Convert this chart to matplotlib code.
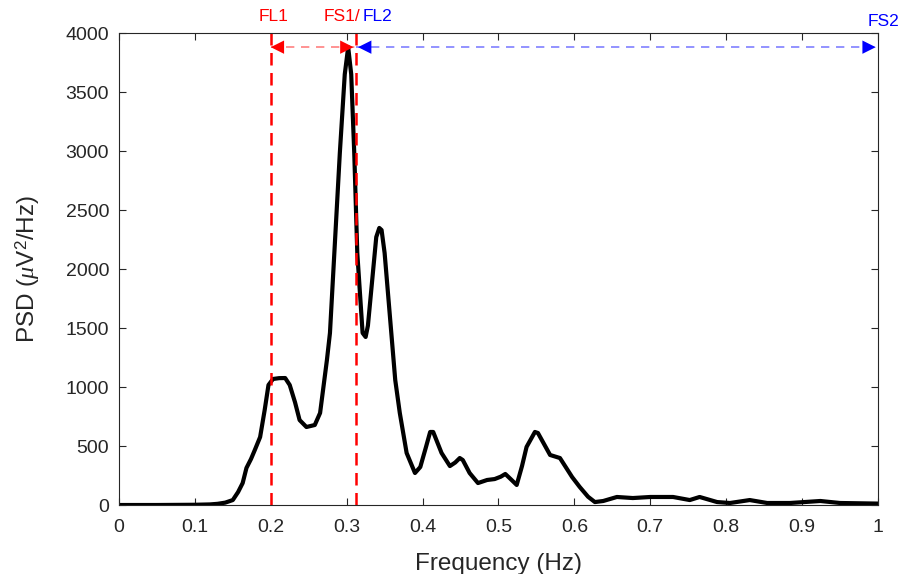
import numpy as np
import matplotlib.pyplot as plt

plt.rcParams['font.family'] = ['Liberation Sans', 'DejaVu Sans']
plt.rcParams['mathtext.fontset'] = 'custom'
plt.rcParams['mathtext.it'] = 'Liberation Serif:italic'
plt.rcParams['mathtext.rm'] = 'Liberation Sans'

# PSD curve
freq = [0, 0.05, 0.1, 0.12, 0.13, 0.14, 0.15, 0.157, 0.163, 0.168, 0.174,
        0.179, 0.186, 0.192, 0.197, 0.203, 0.211, 0.219, 0.225, 0.232, 0.238,
        0.247, 0.258, 0.265, 0.274, 0.278, 0.291, 0.2975, 0.302, 0.306, 0.310,
        0.314, 0.321, 0.325, 0.328, 0.339, 0.343, 0.346, 0.350, 0.364, 0.370,
        0.379, 0.390, 0.397, 0.404, 0.410, 0.414, 0.425, 0.436, 0.443, 0.449,
        0.453, 0.462, 0.473, 0.485, 0.495, 0.503, 0.509, 0.516, 0.524, 0.531,
        0.537, 0.548, 0.552, 0.568, 0.581, 0.597, 0.607, 0.618, 0.627, 0.638,
        0.656, 0.677, 0.700, 0.730, 0.752, 0.765, 0.788, 0.805, 0.831, 0.854,
        0.884, 0.924, 0.950, 1.0]
psd = [0, 0, 2, 5, 10, 20, 42, 110, 186, 314, 390,
       466, 576, 805, 1017, 1068, 1075, 1076, 1017, 870, 720,
       661, 678, 780, 1229, 1458, 2983, 3650, 3880, 3650, 2983,
       2136, 1458, 1424, 1520, 2271, 2348, 2330, 2136, 1059, 780,
       441, 271, 322, 480, 619, 619, 441, 330, 360, 398,
       381, 271, 186, 212, 220, 240, 263, 220, 170, 330,
       492, 619, 610, 424, 398, 237, 153, 70, 25, 34,
       68, 59, 68, 68, 42, 68, 25, 17, 42, 17,
       17, 34, 17, 12]

fl1 = 0.2
fs1 = 0.312
fs2 = 1.0
arrow_y = 3880

fig = plt.figure(figsize=(9.01, 5.74), dpi=100)
ax = fig.add_axes([0.132, 0.1202, 0.8425, 0.8223])

ax.plot(freq, psd, color='black', lw=3, solid_joinstyle='round')

# band limits
ax.axvline(fl1, color='red', ls=(0, (5, 3)), lw=1.8)
ax.axvline(fs1, color='red', ls=(0, (5, 3)), lw=1.8)

# dashed shafts
ax.plot([fl1, fs1], [arrow_y, arrow_y], color='#ff8080', ls=(0, (5, 4)), lw=1.2)
ax.plot([fs1, fs2], [arrow_y, arrow_y], color='#8080ff', ls=(0, (5, 4)), lw=1.2)

# arrow heads
def head(x_tip, direction, color):
    ax.annotate('', xy=(x_tip, arrow_y), xytext=(x_tip + direction * 0.02, arrow_y),
                arrowprops=dict(arrowstyle='-|>', color=color, lw=0,
                                mutation_scale=24, shrinkA=0, shrinkB=0))

head(fl1, 1, 'red')
head(fs1 - 0.003, -1, 'red')
head(fs1 + 0.003, 1, 'blue')
head(fs2 - 0.003, -1, 'blue')

ax.text(0.2035, 4075, 'FL1', color='red', fontsize=12.5, ha='center', va='bottom')
ax.text(0.3185, 4075, 'FS1/', color='red', fontsize=12.5, ha='right', va='bottom')
ax.text(0.3205, 4075, 'FL2', color='blue', fontsize=12.5, ha='left', va='bottom')
ax.text(1.007, 4030, 'FS2', color='blue', fontsize=12.5, ha='center', va='bottom')

ax.set_xlim(0, 1)
ax.set_ylim(0, 4000)
ax.set_xticks(np.arange(0, 1.01, 0.1))
ax.set_xticklabels(['0', '0.1', '0.2', '0.3', '0.4', '0.5', '0.6', '0.7', '0.8', '0.9', '1'])
ax.set_yticks(np.arange(0, 4001, 500))
ax.tick_params(direction='in', length=5, width=0.8, labelsize=14, colors='#262626',
               top=True, right=True)
ax.tick_params(axis='x', pad=10)
ax.tick_params(axis='y', pad=7)
for s in ax.spines.values():
    s.set_color('#262626')
    s.set_linewidth(0.8)

ax.set_xlabel('Frequency (Hz)', fontsize=17.5, color='#262626', labelpad=12)
ax.set_ylabel(r'PSD ($\mu$V$^2$/Hz)', fontsize=17.5, color='#262626', labelpad=17)

fig.savefig('out.png', dpi=100)
